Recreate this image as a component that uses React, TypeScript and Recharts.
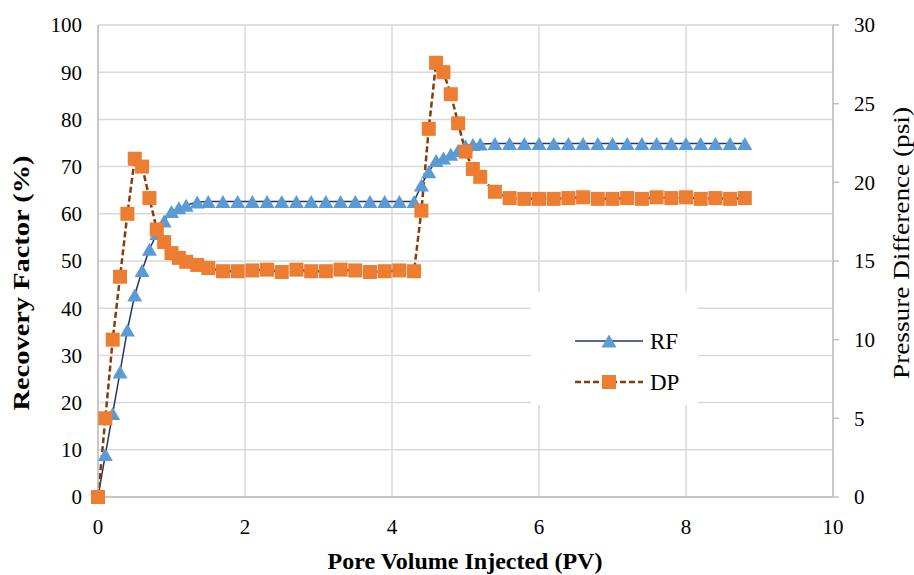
import { ComposedChart, Line, XAxis, YAxis, CartesianGrid } from 'recharts';

// pore volumes injected, shared by both series
const pvInjected = [
  0, 0.1, 0.2, 0.3, 0.4, 0.5, 0.6, 0.7, 0.8, 0.9, 1.0, 1.1, 1.2, 1.35, 1.5,
  1.7, 1.9, 2.1, 2.3, 2.5, 2.7, 2.9, 3.1, 3.3, 3.5, 3.7, 3.9, 4.1, 4.3,
  4.4, 4.5, 4.6, 4.7, 4.8, 4.9, 5.0, 5.1, 5.2,
  5.4, 5.6, 5.8, 6.0, 6.2, 6.4, 6.6, 6.8, 7.0, 7.2, 7.4, 7.6, 7.8, 8.0, 8.2, 8.4, 8.6, 8.8,
];

// recovery factor, %
const recoveryFactor = [
  0, 9, 17.7, 26.5, 35.4, 42.8, 48, 52.5, 55.8, 58.5, 60.5, 61.3, 61.8, 62.5, 62.6,
  62.6, 62.6, 62.6, 62.6, 62.6, 62.6, 62.6, 62.6, 62.6, 62.6, 62.6, 62.6, 62.6, 62.6,
  66.1, 68.9, 71.3, 71.8, 72.6, 73.4, 74.4, 74.7, 74.8,
  74.9, 74.9, 74.9, 74.9, 74.9, 74.9, 74.9, 74.9, 74.9, 74.9, 74.9, 74.9, 74.9, 74.9, 74.9, 74.9, 74.9, 74.9,
];

// pressure difference, psi
const pressureDiff = [
  0, 5.0, 10.0, 14.0, 18.0, 21.5, 21.0, 19.0, 17.0, 16.2, 15.5, 15.2, 14.95, 14.75, 14.55,
  14.35, 14.35, 14.4, 14.45, 14.3, 14.45, 14.35, 14.35, 14.45, 14.4, 14.3, 14.35, 14.4, 14.35,
  18.2, 23.4, 27.6, 27.0, 25.6, 23.75, 21.95, 20.85, 20.35,
  19.4, 19.0, 18.95, 18.95, 18.95, 19.0, 19.05, 18.95, 18.95, 19.0, 18.95, 19.05, 19.0, 19.05, 18.95, 19.0, 18.95, 19.0,
];

const pvTicks = [0, 2, 4, 6, 8, 10];
const rfTicks = [0, 10, 20, 30, 40, 50, 60, 70, 80, 90, 100];
const rfMinorTicks = [5, 15, 25, 35, 45, 55, 65, 75, 85, 95];
const dpTicks = [0, 5, 10, 15, 20, 25, 30];

const data = pvInjected.map((pv, i) => ({ pv, rf: recoveryFactor[i], dp: pressureDiff[i] }));

const FONT = 'Liberation Serif, Times New Roman, serif';
const AXIS_GRAY = '#bfbfbf';
const RF_LINE = '#203864';
const RF_MARK = '#5b9bd5';
const DP_LINE = '#843c0c';
const DP_MARK = '#ed7d31';

const serif = { fontFamily: FONT };

// tick label renderer; anchor decides which side of the axis the text sits on
const makeTick = (anchor: 'start' | 'middle' | 'end', dy: string) => (p: any) => (
  <text
    key={`t-${p.index}`} x={p.x} y={p.y} dy={dy} textAnchor={anchor}
    fontSize={21} fill="#000" style={serif}
  >
    {p.payload.value}
  </text>
);

function triPath(cx: number, cy: number) {
  return `M${cx},${cy - 6.5} L${cx + 7.5},${cy + 6.5} L${cx - 7.5},${cy + 6.5} Z`;
}

const TriangleDot = (props: any) => {
  const { cx, cy, index } = props;
  if (cx == null || cy == null) return <g key={`rf-${index}`} />;
  return <path key={`rf-${index}`} d={triPath(cx, cy)} fill={RF_MARK} />;
};

const SquareDot = (props: any) => {
  const { cx, cy, index } = props;
  if (cx == null || cy == null) return <g key={`dp-${index}`} />;
  return <rect key={`dp-${index}`} x={cx - 7} y={cy - 7} width={14} height={14} fill={DP_MARK} />;
};

const XTitle = () => (
  <text x={465} y={569} textAnchor="middle" fontSize={24} fontWeight="bold" fill="#000" style={serif}>
    Pore Volume Injected (PV)
  </text>
);

const LeftTitle = () => (
  <text
    x={29} y={283} transform="rotate(-90 29 283)" textAnchor="middle"
    fontSize={24} fontWeight="bold" fill="#000" style={serif}
    textLength={255} lengthAdjust="spacingAndGlyphs"
  >
    Recovery Factor (%)
  </text>
);

const RightTitle = () => (
  <text
    x={909} y={243} transform="rotate(-90 909 243)" textAnchor="middle"
    fontSize={23} fill="#000" style={serif}
    textLength={272} lengthAdjust="spacingAndGlyphs"
  >
    Pressure Difference (psi)
  </text>
);

function LegendBox() {
  return (
    <div style={{ position: 'absolute', left: 531, top: 292, width: 167, height: 113, background: '#fff' }}>
      <svg width={167} height={113}>
        <line x1={44} x2={112} y1={49} y2={49} stroke={RF_LINE} strokeWidth={1.5} />
        <path d={triPath(78, 49)} fill={RF_MARK} />
        <text x={119} y={57} fontSize={23} fill="#000" style={serif}>RF</text>
        <line x1={44} x2={112} y1={90} y2={90} stroke={DP_LINE} strokeWidth={2.5} strokeDasharray="6 3" />
        <rect x={71} y={83} width={14} height={14} fill={DP_MARK} />
        <text x={119} y={98} fontSize={23} fill="#000" style={serif}>DP</text>
      </svg>
    </div>
  );
}

export default function App() {
  return (
    <div style={{ position: 'absolute', left: 0, top: 0, width: 914, height: 575, background: '#fff' }}>
      <ComposedChart width={914} height={575} data={data} margin={{ top: 25, right: 0, bottom: 48, left: 38 }}>
        <CartesianGrid xAxisId="pv" yAxisId="minor" vertical={false} stroke="#eeeeee" strokeWidth={1.5} />
        <CartesianGrid xAxisId="pv" yAxisId="rf" stroke="#d9d9d9" strokeWidth={1.5} />
        <XAxis
          xAxisId="pv" type="number" dataKey="pv" domain={[0, 10]} ticks={pvTicks}
          height={30} tickSize={0} tickMargin={22} tick={makeTick('middle', '0.71em')}
          axisLine={{ stroke: AXIS_GRAY, strokeWidth: 1.5 }}
          label={<XTitle />}
        />
        <YAxis
          yAxisId="rf" type="number" domain={[0, 100]} ticks={rfTicks} width={60}
          tickSize={0} tickMargin={16} tick={makeTick('end', '0.355em')}
          axisLine={{ stroke: AXIS_GRAY, strokeWidth: 1.5 }}
          label={<LeftTitle />}
        />
        <YAxis yAxisId="minor" type="number" domain={[0, 100]} ticks={rfMinorTicks} width={0} hide />
        <YAxis
          yAxisId="dp" orientation="right" type="number" domain={[0, 30]} ticks={dpTicks} width={81}
          tickSize={6} tickMargin={15} tick={makeTick('start', '0.355em')}
          axisLine={{ stroke: AXIS_GRAY, strokeWidth: 1.5 }}
          tickLine={{ stroke: AXIS_GRAY, strokeWidth: 1.5 }}
          label={<RightTitle />}
        />
        <Line
          xAxisId="pv" yAxisId="rf" dataKey="rf" name="RF" type="linear"
          stroke={RF_LINE} strokeWidth={1.5} dot={TriangleDot} activeDot={false}
          isAnimationActive={false}
        />
        <Line
          xAxisId="pv" yAxisId="dp" dataKey="dp" name="DP" type="linear"
          stroke={DP_LINE} strokeWidth={2.5} strokeDasharray="6 3" dot={SquareDot} activeDot={false}
          isAnimationActive={false}
        />
      </ComposedChart>
      <LegendBox />
    </div>
  );
}
